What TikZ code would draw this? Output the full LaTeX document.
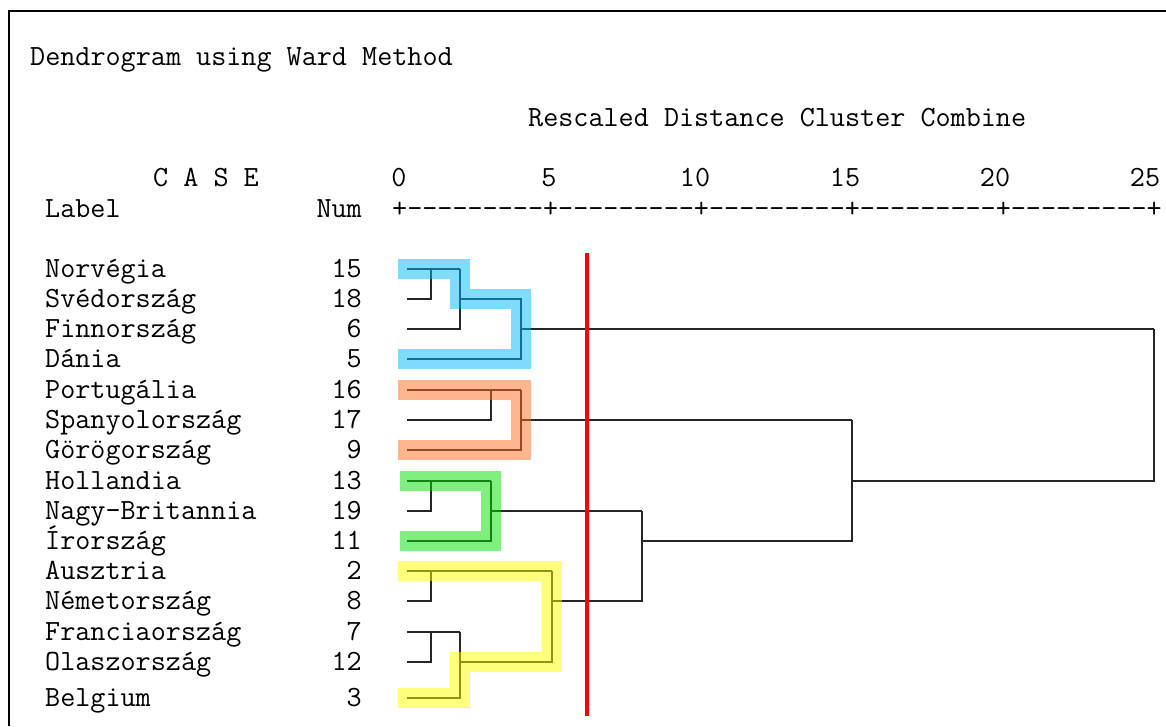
\documentclass[tikz,border=0pt]{standalone}
\usepackage{fontspec}
\usetikzlibrary{positioning}

\definecolor{hlblue}{RGB}{0,185,255}
\definecolor{hlorange}{RGB}{255,110,30}
\definecolor{hlgreen}{RGB}{0,225,0}
\definecolor{hlyellow}{RGB}{255,255,0}

\tikzset{
  txt/.style={inner sep=0pt,anchor=mid west,yshift=-6pt,font=\ttfamily\fontsize{29.3}{30}\selectfont},
  numtxt/.style={txt,anchor=mid east},
  tree/.style={line width=1.6pt,black!85},
  band/.style={line width=20pt,opacity=.5,line join=miter}
}

\begin{document}
\begin{tikzpicture}[x=1pt,y=-1pt]
        \useasboundingbox (0,0) rectangle (1166,726);
        \draw[line width=2.2pt](9,726)--(9,11)--(1166,11);

        % header
        \node[txt](title)at(30,57){Dendrogram using Ward Method};
        \node[txt](rescaled)at(528,118){Rescaled Distance Cluster Combine};
        \node[txt](case)at(153,178){C A S E};
        \node[txt](label)at(45,209){Label};
        \node[numtxt](num)at(362,209){Num};
        \node[txt](ruler)at(392,209){+---------+---------+---------+---------+---------+};
        \foreach \v/\x in {0/399,5/549,10/695,15/845,20/995,25/1145}
            \node[txt,anchor=mid](t\v)at(\x,178){\v};

        % cases
        \foreach \name/\n/\y in {Norvégia/15/269,Svédország/18/299,Finnország/6/329,Dánia/5/359,
            Portugália/16/390,Spanyolország/17/420,Görögország/9/450,Hollandia/13/481,
            Nagy-Britannia/19/511,Írország/11/541,Ausztria/2/571,Németország/8/601,
            Franciaország/7/632,Olaszország/12/662,Belgium/3/698}{
            \node[txt](n\n)at(45,\y){\name};
            \node[numtxt](c\n)at(362,\y){\n};
            \coordinate(l\n)at(407,\y);
        }
        \foreach \h/\x in {a/431,b/460,c/491,d/521,e/552,f/642,g/852,h/1154}
            \coordinate(\h)at(\x,0);

        % tree
        \draw[tree](l18)-|(l15-|a);
        \draw[tree](l15)--(l15-|b);
        \draw[tree](l6)-|(l15-|b);
        \draw[tree](l18-|b)-|(l5-|d)--(l5);
        \draw[tree](l6-|d)--(l6-|h);
        \draw[tree](l17)-|(l16-|c);
        \draw[tree](l16)--(l16-|d);
        \draw[tree](l9)-|(l16-|d);
        \draw[tree](l17-|d)--(l17-|g);
        \draw[tree](l19)-|(l13-|a);
        \draw[tree](l13)--(l13-|c);
        \draw[tree](l11)-|(l13-|c);
        \draw[tree](l19-|c)--(l19-|f);
        \draw[tree](l8)-|(l2-|a);
        \draw[tree](l2)--(l2-|e);
        \draw[tree](l12)-|(l7-|a);
        \draw[tree](l7)--(l7-|b);
        \draw[tree](l3)-|(l7-|b);
        \draw[tree](l12-|b)-|(l2-|e);
        \draw[tree](l8-|e)-|(l19-|f);
        \draw[tree](l11-|f)-|(l17-|g);
        \draw[tree](l13-|g)-|(l6-|h);

        % highlighted clusters
        \draw[band,hlblue]([xshift=-9pt]l15)--(l15-|b)--(l18-|b)--(l18-|d)--(l5-|d)--([xshift=-9pt]l5);
        \draw[band,hlorange]([xshift=-9pt]l16)--(l16-|d)--(l9-|d)--([xshift=-9pt]l9);
        \draw[band,hlgreen]([xshift=-7pt]l13)--(l13-|c)--(l11-|c)--([xshift=-7pt]l11);
        \draw[band,hlyellow]([xshift=-9pt]l2)--(l2-|e)--(l12-|e)--(l12-|b)--(l3-|b)--([xshift=-9pt]l3);

        % cut line
        \draw[red,line width=4pt](587,253)--(587,716);
    \end{tikzpicture}
\end{document}
